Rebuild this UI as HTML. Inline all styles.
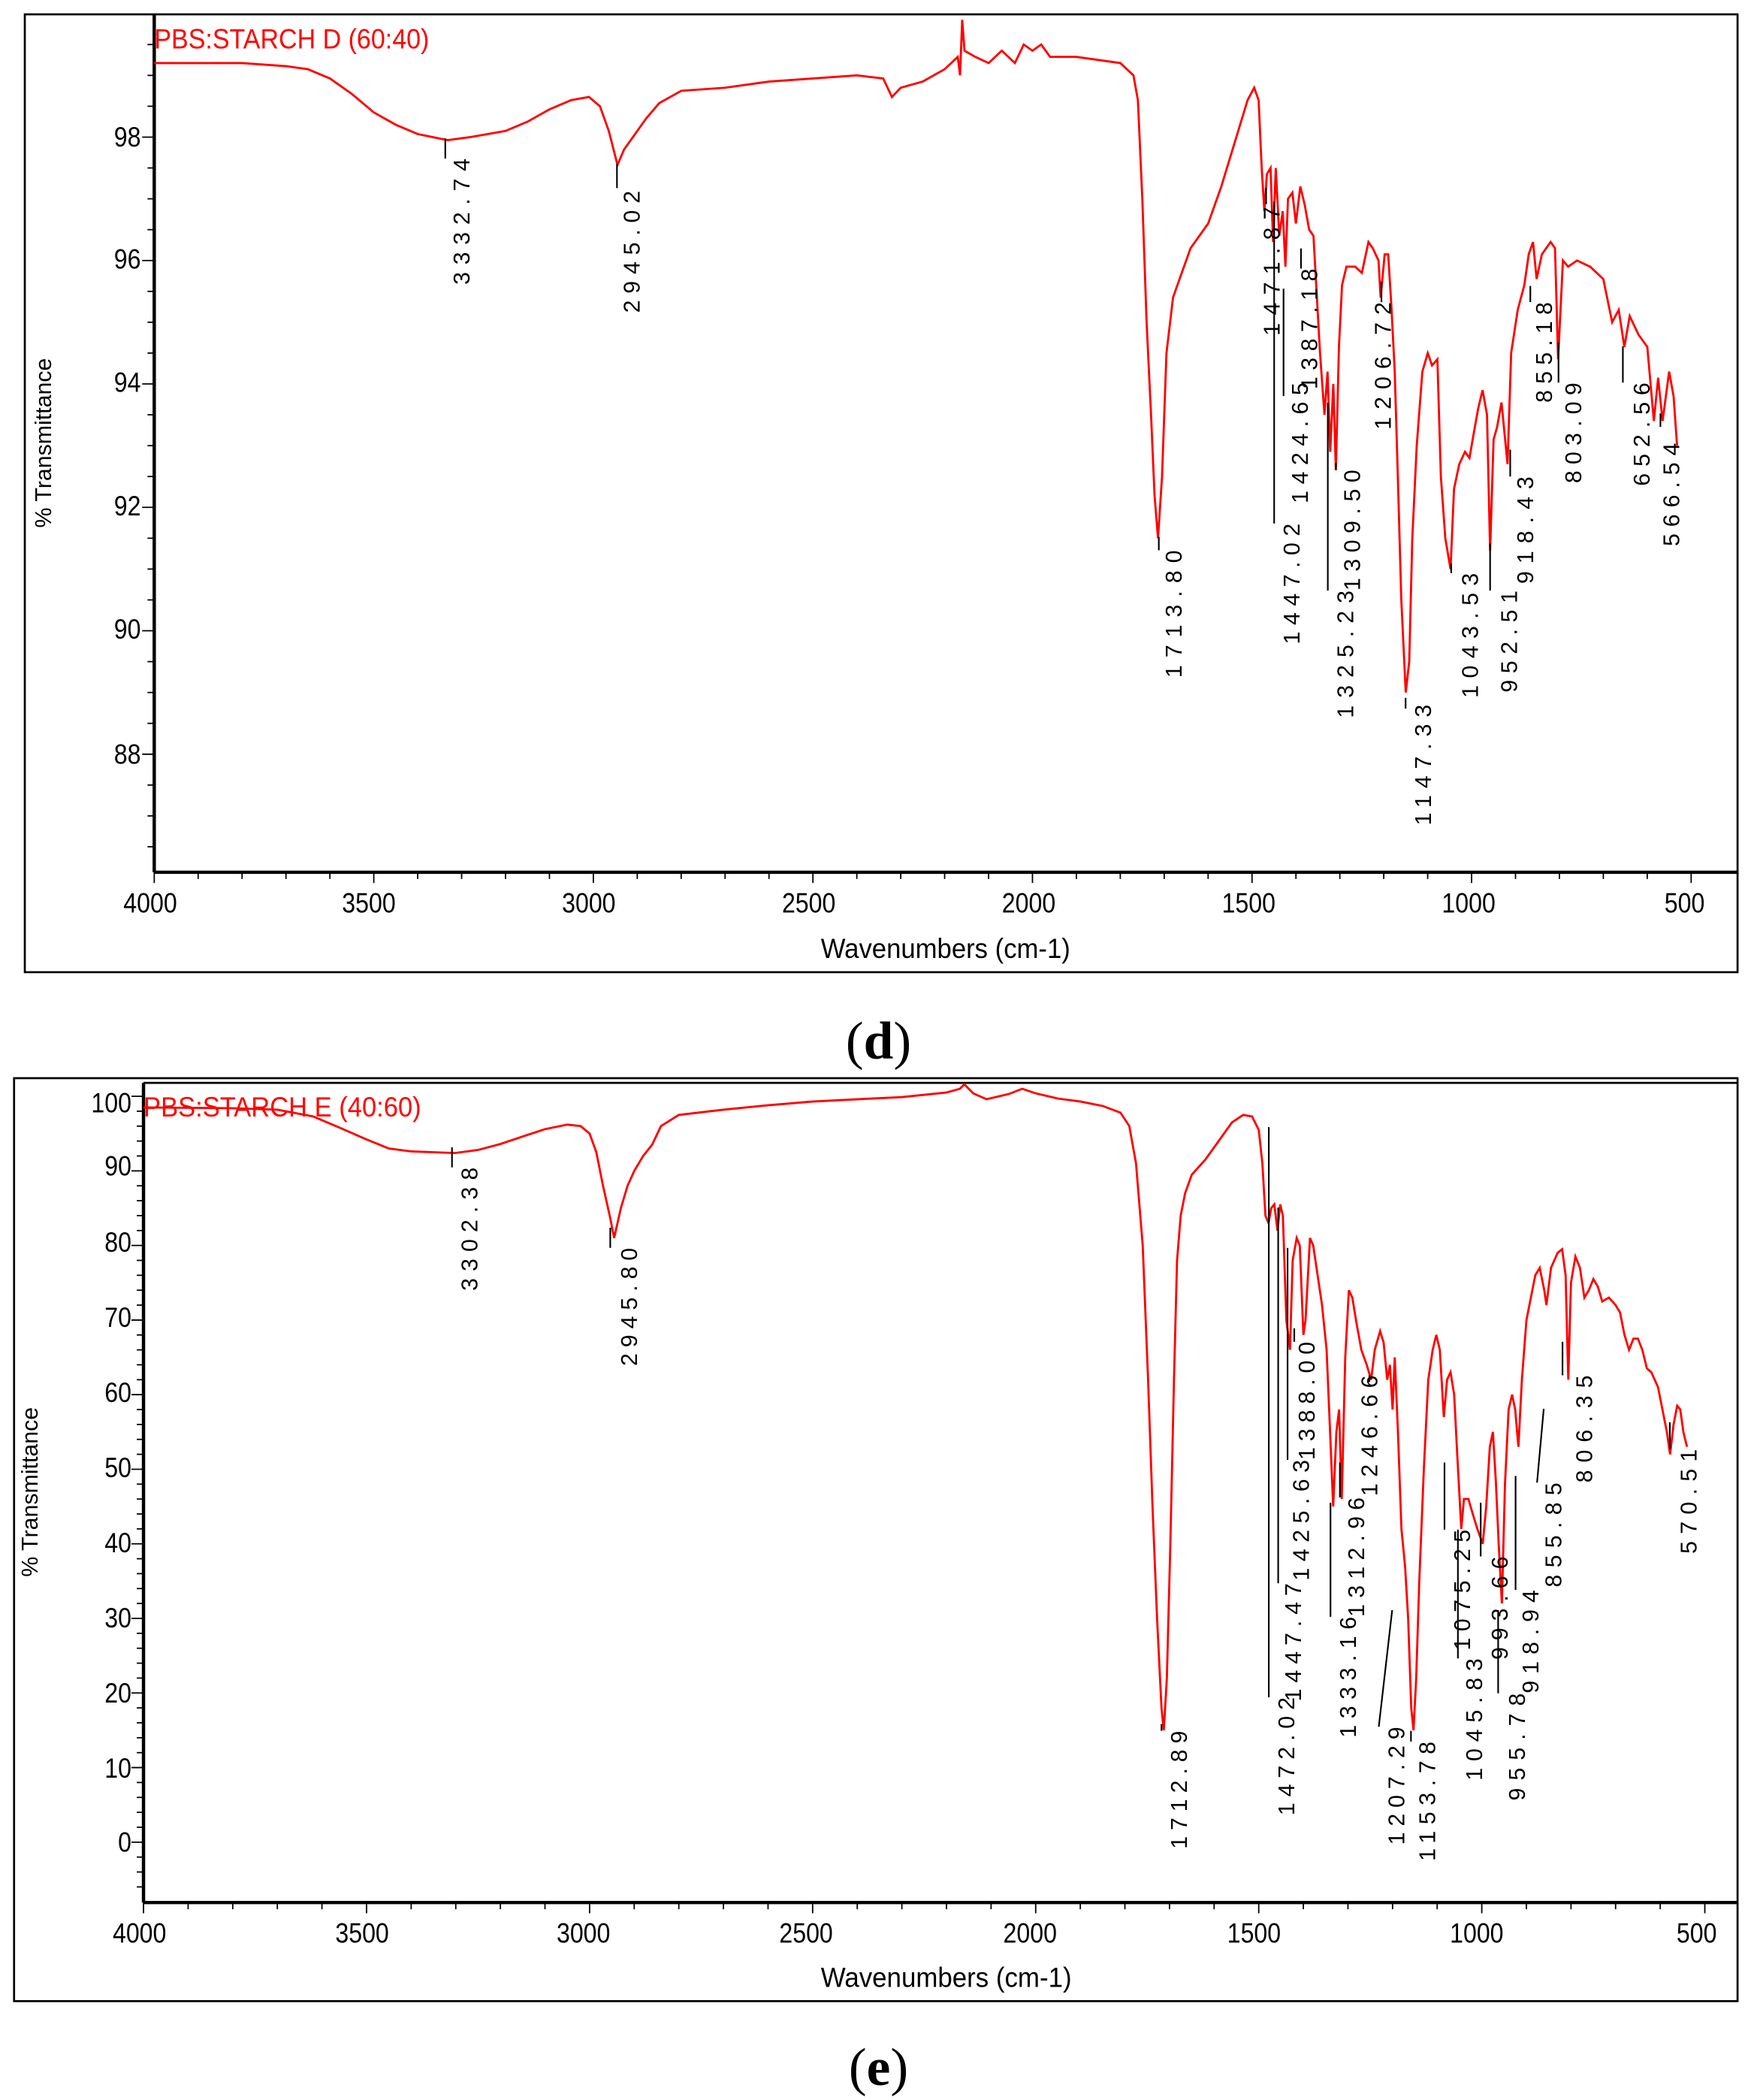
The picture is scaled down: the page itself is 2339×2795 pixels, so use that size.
<!DOCTYPE html>
<html><head><meta charset="utf-8">
<style>
html,body{margin:0;padding:0;background:#fff;}
svg{display:block;}
.lb{font-family:"Liberation Sans",sans-serif;font-size:17px;fill:#000;}
.tk{font-family:"Liberation Sans Narrow","Liberation Sans",sans-serif;font-size:21px;fill:#000;}
.ttl{font-family:"Liberation Sans Narrow","Liberation Sans",sans-serif;font-size:21px;fill:#f00;}
.ax{font-family:"Liberation Sans Narrow","Liberation Sans",sans-serif;font-size:21px;fill:#000;}
.yl{font-family:"Liberation Sans",sans-serif;font-size:17px;fill:#000;}
.cap{font-family:"Liberation Serif",serif;font-size:40px;fill:#000;}
</style></head>
<body>
<svg id="s" width="2339" height="2795" viewBox="0 0 1310 1565" xmlns="http://www.w3.org/2000/svg">
<rect width="1310" height="1565" fill="#fff"/>
<rect x="18.5" y="10.5" width="1277" height="714" fill="none" stroke="#000" stroke-width="1.5"/>
<line x1="115" y1="10" x2="115" y2="650" stroke="#000" stroke-width="2.5"/>
<line x1="115" y1="650" x2="1295" y2="650" stroke="#000" stroke-width="2.5"/>
<g id="dticks" stroke="#000" stroke-width="1"></g>
<g class="tk" text-anchor="middle">
<text x="112" y="680">4000</text><text x="275" y="680">3500</text><text x="439" y="680">3000</text><text x="603" y="680">2500</text><text x="767" y="680">2000</text><text x="931" y="680">1500</text><text x="1095" y="680">1000</text><text x="1256" y="680">500</text>
</g>
<g class="tk" text-anchor="end">
<text x="105" y="109">98</text><text x="105" y="200">96</text><text x="105" y="292">94</text><text x="105" y="384">92</text><text x="105" y="476">90</text><text x="105" y="569">88</text>
</g>
<text class="ttl" x="115" y="36" textLength="205" lengthAdjust="spacingAndGlyphs">PBS:STARCH D (60:40)</text>
<text class="yl" transform="translate(38,330) rotate(-90)" text-anchor="middle">% Transmittance</text>
<text class="ax" x="612" y="714" textLength="186" lengthAdjust="spacingAndGlyphs">Wavenumbers (cm-1)</text>
<text class="cap" x="655" y="789" text-anchor="middle">(<tspan font-weight="bold">d</tspan>)</text>
<path id="pd" fill="none" stroke="#f00" stroke-width="1.6"/>
<g class="lb">
<text transform="translate(350,212) rotate(-90)" textLength="94">3332.74</text>
<text transform="translate(477,233) rotate(-90)" textLength="91">2945.02</text>
<text transform="translate(881,505) rotate(-90)" textLength="95">1713.80</text>
<text transform="translate(954,250) rotate(-90)" textLength="96">1471.87</text>
<text transform="translate(969,480) rotate(-90)" textLength="90">1447.02</text>
<text transform="translate(975,375) rotate(-90)" textLength="90">1424.65</text>
<text transform="translate(982,290) rotate(-90)" textLength="90">1387.18</text>
<text transform="translate(1009,535) rotate(-90)" textLength="95">1325.23</text>
<text transform="translate(1014,440) rotate(-90)" textLength="90">1309.50</text>
<text transform="translate(1037,320) rotate(-90)" textLength="95">1206.72</text>
<text transform="translate(1067,615) rotate(-90)" textLength="90">1147.33</text>
<text transform="translate(1102,520) rotate(-90)" textLength="93">1043.53</text>
<text transform="translate(1131,516) rotate(-90)" textLength="76">952.51</text>
<text transform="translate(1143,435) rotate(-90)" textLength="80">918.43</text>
<text transform="translate(1157,300) rotate(-90)" textLength="75">855.18</text>
<text transform="translate(1179,360) rotate(-90)" textLength="75">803.09</text>
<text transform="translate(1230,362) rotate(-90)" textLength="77">652.56</text>
<text transform="translate(1252,407) rotate(-90)" textLength="77">566.54</text>
</g>
<g stroke="#000" stroke-width="1.2">
<line x1="332" y1="103" x2="332" y2="118"/><line x1="460" y1="122" x2="460" y2="140"/>
<line x1="864" y1="400" x2="864" y2="410"/><line x1="944" y1="140" x2="944" y2="152"/>
<line x1="950" y1="150" x2="950" y2="390"/><line x1="957" y1="215" x2="957" y2="295"/>
<line x1="970" y1="185" x2="970" y2="200"/><line x1="990" y1="300" x2="990" y2="440"/>
<line x1="996" y1="345" x2="996" y2="350"/><line x1="1030" y1="210" x2="1030" y2="225"/>
<line x1="1048" y1="520" x2="1048" y2="528"/><line x1="1082" y1="420" x2="1082" y2="427"/>
<line x1="1111" y1="405" x2="1111" y2="440"/><line x1="1126" y1="335" x2="1126" y2="355"/>
<line x1="1141" y1="213" x2="1141" y2="225"/><line x1="1162" y1="255" x2="1162" y2="285"/>
<line x1="1210" y1="258" x2="1210" y2="285"/><line x1="1238" y1="308" x2="1238" y2="318"/>
</g>

<rect x="10.5" y="803.5" width="1285" height="688" fill="none" stroke="#000" stroke-width="1.5"/>
<line x1="107" y1="807" x2="107" y2="1418" stroke="#000" stroke-width="2.5"/>
<line x1="107" y1="1418" x2="1295" y2="1418" stroke="#000" stroke-width="2.5"/>
<line x1="107" y1="807" x2="1295" y2="807" stroke="#000" stroke-width="1.5"/>
<g id="eticks" stroke="#000" stroke-width="1"></g>
<g class="tk" text-anchor="middle">
<text x="104" y="1448">4000</text><text x="270" y="1448">3500</text><text x="435" y="1448">3000</text><text x="601" y="1448">2500</text><text x="768" y="1448">2000</text><text x="935" y="1448">1500</text><text x="1101" y="1448">1000</text><text x="1265" y="1448">500</text>
</g>
<g class="tk" text-anchor="end">
<text x="98" y="829">100</text><text x="98" y="876">90</text><text x="98" y="933">80</text><text x="98" y="989">70</text><text x="98" y="1045">60</text><text x="98" y="1101">50</text><text x="98" y="1157">40</text><text x="98" y="1213">30</text><text x="98" y="1269">20</text><text x="98" y="1325">10</text><text x="98" y="1380">0</text>
</g>
<text class="ttl" x="107" y="832" textLength="207" lengthAdjust="spacingAndGlyphs">PBS:STARCH E (40:60)</text>
<text class="yl" transform="translate(28,1112) rotate(-90)" text-anchor="middle">% Transmittance</text>
<text class="ax" x="612" y="1481" textLength="187" lengthAdjust="spacingAndGlyphs">Wavenumbers (cm-1)</text>
<text class="cap" x="655" y="1554" text-anchor="middle">(<tspan font-weight="bold">e</tspan>)</text>
<path id="pe" fill="none" stroke="#f00" stroke-width="1.6"/>
<g class="lb">
<text transform="translate(356,962) rotate(-90)" textLength="92">3302.38</text>
<text transform="translate(475,1018) rotate(-90)" textLength="88">2945.80</text>
<text transform="translate(885,1378) rotate(-90)" textLength="88">1712.89</text>
<text transform="translate(965,1353) rotate(-90)" textLength="88">1472.02</text>
<text transform="translate(970,1268) rotate(-90)" textLength="88">1447.47</text>
<text transform="translate(976,1178) rotate(-90)" textLength="90">1425.63</text>
<text transform="translate(980,1088) rotate(-90)" textLength="88">1388.00</text>
<text transform="translate(1011,1295) rotate(-90)" textLength="90">1333.16</text>
<text transform="translate(1017,1205) rotate(-90)" textLength="89">1312.96</text>
<text transform="translate(1027,1115) rotate(-90)" textLength="90">1246.66</text>
<text transform="translate(1047,1375) rotate(-90)" textLength="88">1207.29</text>
<text transform="translate(1070,1387) rotate(-90)" textLength="89">1153.78</text>
<text transform="translate(1096,1230) rotate(-90)" textLength="90">1075.25</text>
<text transform="translate(1105,1327) rotate(-90)" textLength="91">1045.83</text>
<text transform="translate(1124,1237) rotate(-90)" textLength="77">993.66</text>
<text transform="translate(1137,1342) rotate(-90)" textLength="80">955.78</text>
<text transform="translate(1147,1262) rotate(-90)" textLength="77">918.94</text>
<text transform="translate(1164,1183) rotate(-90)" textLength="78">855.85</text>
<text transform="translate(1187,1105) rotate(-90)" textLength="80">806.35</text>
<text transform="translate(1265,1158) rotate(-90)" textLength="78">570.51</text>
</g>
<g stroke="#000" stroke-width="1.2">
<line x1="337" y1="855" x2="337" y2="870"/><line x1="455" y1="915" x2="455" y2="930"/>
<line x1="866" y1="1285" x2="866" y2="1290"/><line x1="946" y1="840" x2="946" y2="1265"/>
<line x1="953" y1="900" x2="953" y2="1180"/><line x1="960" y1="930" x2="960" y2="1088"/>
<line x1="965" y1="990" x2="965" y2="1000"/><line x1="992" y1="1120" x2="992" y2="1205"/>
<line x1="999" y1="1090" x2="999" y2="1116"/><line x1="1021" y1="1025" x2="1021" y2="1030"/>
<line x1="1028" y1="1287" x2="1038" y2="1200"/><line x1="1052" y1="1290" x2="1052" y2="1298"/>
<line x1="1077" y1="1090" x2="1077" y2="1140"/><line x1="1087" y1="1140" x2="1087" y2="1236"/>
<line x1="1104" y1="1120" x2="1104" y2="1160"/><line x1="1117" y1="1200" x2="1117" y2="1262"/>
<line x1="1130" y1="1100" x2="1130" y2="1185"/><line x1="1151" y1="1050" x2="1146" y2="1105"/>
<line x1="1165" y1="1000" x2="1165" y2="1025"/><line x1="1245" y1="1060" x2="1245" y2="1080"/>
</g>
</svg>
<script>
var NS="http://www.w3.org/2000/svg";
function xd(w){return 115+(4000-w)*0.3274;} function yd(v){return 102+(98-v)*46;}
function xe(w){return 107+(4000-w)*0.3326;} function ye(v){return 1373-v*5.56;}
var D=[[4000,99.2],[3800,99.2],[3700,99.15],[3650,99.1],[3600,98.95],[3550,98.7],[3500,98.4],[3450,98.2],[3400,98.05],[3332,97.95],[3280,98.0],[3200,98.1],[3150,98.25],[3100,98.45],[3050,98.6],[3010,98.65],[2985,98.5],[2965,98.1],[2945,97.55],[2930,97.8],[2910,98.0],[2880,98.3],[2850,98.55],[2800,98.75],[2700,98.8],[2600,98.9],[2500,98.95],[2400,99.0],[2340,98.95],[2320,98.65],[2300,98.8],[2250,98.9],[2200,99.1],[2170,99.3],[2165,99.0],[2160,99.9],[2155,99.4],[2130,99.3],[2100,99.2],[2070,99.4],[2040,99.2],[2020,99.5],[2000,99.4],[1980,99.5],[1960,99.3],[1900,99.3],[1800,99.2],[1770,99.0],[1760,98.6],[1750,97.0],[1740,95.0],[1730,93.5],[1722,92.2],[1714,91.5],[1705,92.5],[1695,94.5],[1680,95.4],[1660,95.8],[1640,96.2],[1600,96.6],[1570,97.2],[1540,97.9],[1510,98.6],[1495,98.8],[1485,98.6],[1478,97.5],[1472,96.8],[1466,97.4],[1458,97.5],[1452,96.3],[1446,97.5],[1438,96.4],[1430,96.8],[1424,95.9],[1418,97.0],[1408,97.1],[1400,96.6],[1390,97.2],[1380,96.9],[1370,96.5],[1360,96.4],[1345,94.5],[1335,93.5],[1328,94.2],[1322,92.9],[1315,94.0],[1309,92.6],[1302,94.6],[1295,95.6],[1285,95.9],[1265,95.9],[1250,95.8],[1235,96.3],[1225,96.2],[1212,96.0],[1207,95.4],[1198,96.1],[1190,96.1],[1183,95.3],[1175,94.2],[1168,92.5],[1160,90.5],[1150,89.0],[1142,89.5],[1135,91.5],[1125,93.0],[1112,94.2],[1100,94.5],[1090,94.3],[1078,94.4],[1070,92.5],[1060,91.5],[1048,91.0],[1040,92.3],[1028,92.7],[1015,92.9],[1005,92.8],[995,93.2],[985,93.6],[975,93.9],[965,93.5],[958,91.3],[950,93.1],[942,93.3],[932,93.7],[918,92.7],[910,94.5],[895,95.2],[880,95.6],[870,96.1],[860,96.3],[852,95.7],[840,96.1],[820,96.3],[810,96.2],[803,94.4],[792,96.0],[780,95.9],[760,96.0],[730,95.9],[700,95.7],[680,95.0],[665,95.2],[652,94.6],[640,95.1],[620,94.8],[600,94.6],[585,93.4],[575,94.1],[565,93.4],[550,94.2],[540,93.8],[532,93.0]];
var E=[[4000,98.5],[3800,98.4],[3700,98.2],[3620,97.3],[3560,95.8],[3500,94.2],[3450,93.0],[3400,92.6],[3302,92.4],[3250,92.8],[3200,93.6],[3150,94.6],[3100,95.6],[3050,96.2],[3020,96.0],[3000,95.0],[2985,92.5],[2970,88],[2955,84],[2945,81],[2930,85],[2915,88],[2900,90],[2880,92],[2860,93.5],[2840,96],[2800,97.5],[2700,98.2],[2600,98.8],[2500,99.3],[2400,99.6],[2300,99.9],[2200,100.5],[2170,101],[2160,101.6],[2140,100.4],[2110,99.6],[2060,100.3],[2030,101],[2000,100.4],[1950,99.7],[1900,99.3],[1850,98.7],[1810,97.8],[1790,96],[1775,91],[1760,80],[1748,62],[1738,45],[1728,30],[1718,18],[1713,15],[1706,22],[1698,40],[1690,62],[1683,78],[1675,84],[1665,87],[1650,89.5],[1620,91.5],[1590,94],[1560,96.5],[1535,97.5],[1515,97.3],[1500,95.5],[1492,91],[1485,84],[1478,83],[1472,85],[1465,85.5],[1458,82],[1452,85.5],[1446,84],[1438,70],[1430,66],[1424,78],[1415,81],[1408,80],[1400,68],[1395,70],[1385,81],[1378,80],[1368,76],[1358,72],[1348,66],[1340,55],[1333,45],[1326,55],[1320,58],[1314,46],[1306,65],[1298,74],[1290,73],[1282,70],[1270,66],[1258,64],[1248,62],[1240,66],[1228,68.5],[1220,67],[1212,62],[1206,64],[1200,58],[1195,65],[1188,55],[1180,42],[1172,37],[1165,30],[1158,18],[1153,15],[1147,22],[1140,35],[1130,50],[1120,62],[1110,66],[1102,68],[1094,66],[1085,57],[1078,62],[1070,63],[1062,60],[1055,52],[1046,42],[1040,46],[1030,46],[1020,44],[1010,42],[998,40],[990,45],[982,53],[975,55],[968,48],[962,40],[955,32],[948,48],[940,58],[932,60],[925,58],[918,53],[910,62],[900,70],[890,73],[880,76],[870,77],[860,74],[855,72],[845,77],[830,79],[820,79.5],[812,76],[806,62],[800,75],[790,78.5],[780,77],[770,73],[760,74],[750,75.5],[740,74.5],[730,72.5],[715,73],[700,72],[690,71],[680,68],[670,66],[660,67.5],[650,67.5],[640,66],[630,63.5],[620,63],[605,61],[595,58],[585,55],[578,52],[570,56],[562,58.5],[555,58],[548,55],[540,53]];
function mk(a,fx,fy){var s="";for(var i=0;i<a.length;i++){s+=(i?"L":"M")+fx(a[i][0]).toFixed(1)+","+fy(a[i][1]).toFixed(1);}return s;}
document.getElementById("pd").setAttribute("d",mk(D,xd,yd));
document.getElementById("pe").setAttribute("d",mk(E,xe,ye));
function tick(g,x1,y1,x2,y2){var l=document.createElementNS(NS,"line");l.setAttribute("x1",x1);l.setAttribute("y1",y1);l.setAttribute("x2",x2);l.setAttribute("y2",y2);document.getElementById(g).appendChild(l);}
for(var w=4000;w>=500;w-=100){var big=(w%500==0);tick("dticks",xd(w),650,xd(w),big?658:655);tick("eticks",xe(w),1418,xe(w),big?1426:1423);}
for(var v=100;v>=86;v-=0.5){var y=yd(v);if(y<12||y>648)continue;var big=(Math.abs(v%2)<0.01);tick("dticks",big?106:110,y,115,y);}
for(var v=100;v>=-8;v-=2){var y=ye(v);if(y<809||y>1416)continue;var big=(Math.abs(v%10)<0.01);tick("eticks",big?98:102,y,107,y);}
var tks=document.querySelectorAll(".tk text");
for(var i=0;i<tks.length;i++){tks[i].setAttribute("textLength",tks[i].textContent.length*10);tks[i].setAttribute("lengthAdjust","spacingAndGlyphs");}
</script>
</body></html>
